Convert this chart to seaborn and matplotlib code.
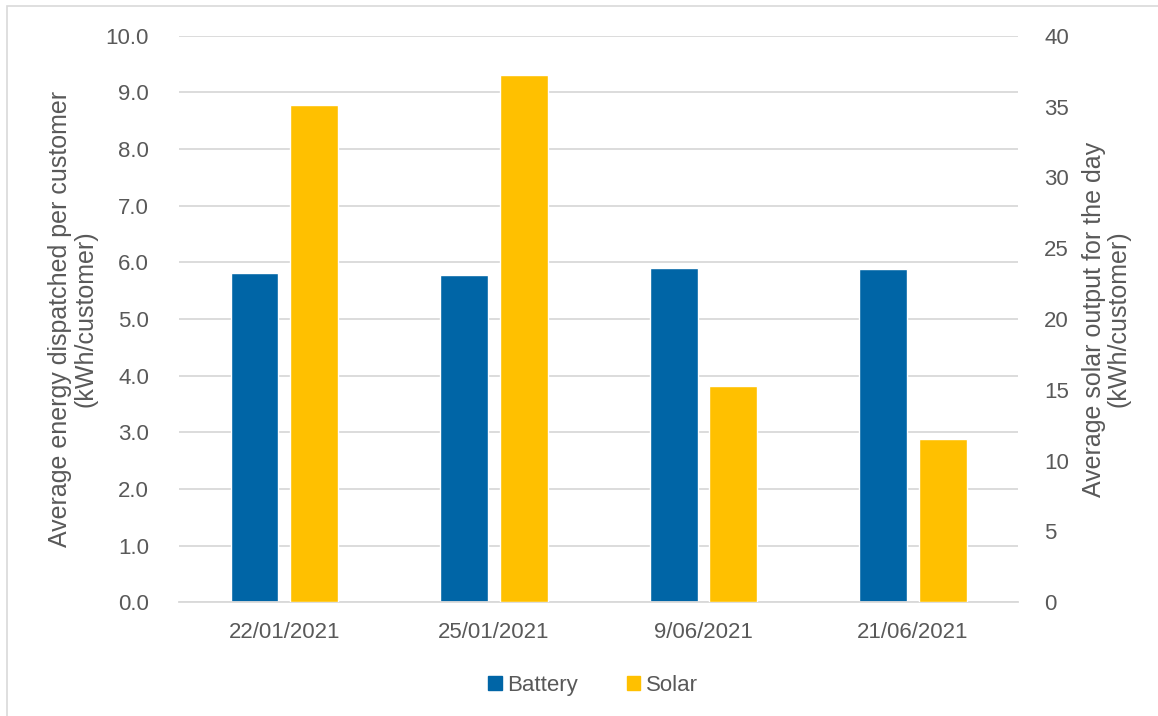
import matplotlib
matplotlib.use("Agg")
import matplotlib.pyplot as plt
from matplotlib.patches import Rectangle
import pandas as pd
import seaborn as sns

dates = ["22/01/2021", "25/01/2021", "9/06/2021", "21/06/2021"]
battery = [5.82, 5.77, 5.90, 5.88]
solar = [35.1, 37.2, 15.3, 11.5]
series = ["Battery", "Solar"]
colors = {"Battery": "#0065A6", "Solar": "#FFC000"}

sns.set_theme(style="white")
plt.rcParams["font.family"] = ["Liberation Sans", "DejaVu Sans"]
text_color = "#595959"
grid_color = "#D9D9D9"

left_df = pd.DataFrame({"Date": dates * 2, "Series": ["Battery"] * 4 + ["Solar"] * 4,
                        "Value": battery + [float("nan")] * 4})
right_df = pd.DataFrame({"Date": dates * 2, "Series": ["Battery"] * 4 + ["Solar"] * 4,
                         "Value": [float("nan")] * 4 + solar})

fig = plt.figure(figsize=(11.58, 7.16), dpi=100)
ax = fig.add_axes([0.155, 0.159, 0.724, 0.791])
ax2 = ax.twinx()

for a, df in ((ax, left_df), (ax2, right_df)):
    sns.barplot(data=df, x="Date", y="Value", hue="Series", hue_order=series,
                palette=colors, width=0.57, gap=0.2, order=dates, ax=a,
                legend=False, errorbar=None, saturation=1)

ax.set_ylim(0, 10)
ax.set_yticks(list(range(11)))
ax.set_yticklabels([f"{i:.1f}" for i in range(11)])
ax2.set_ylim(0, 40)
ax2.set_yticks(list(range(0, 41, 5)))
ax.set_xlim(-0.5, 3.5)

ax.yaxis.grid(True, color=grid_color, linewidth=1.3)
ax.set_axisbelow(True)
for a in (ax, ax2):
    for s in a.spines.values():
        s.set_visible(False)
    a.tick_params(length=0, labelsize=16, colors=text_color)
ax.spines["bottom"].set_visible(True)
ax.spines["bottom"].set_color(grid_color)
ax.spines["bottom"].set_linewidth(1.3)
ax.tick_params(axis="x", pad=14)
ax.tick_params(axis="y", pad=22)
ax2.tick_params(axis="y", pad=19)

ax.set_xlabel("")
ax.set_ylabel("Average energy dispatched per customer\n(kWh/customer)",
              fontsize=18, color=text_color, labelpad=6, linespacing=1.05)
ax2.set_ylabel("Average solar output for the day\n(kWh/customer)",
               fontsize=18, color=text_color, labelpad=9, linespacing=1.05)

handles = [Rectangle((0, 0), 1, 1, color=colors[s]) for s in series]
fig.legend(handles, series, loc="center", bbox_to_anchor=(0.512, 0.043), ncol=2,
           frameon=False, fontsize=16, labelcolor=text_color, handlelength=0.6,
           handleheight=0.6, handletextpad=0.25, columnspacing=2.2)

fig.patches.append(Rectangle((7 / 1158, -0.1), 1.2, 1 - 6 / 716 + 0.1,
                             transform=fig.transFigure, fill=False,
                             edgecolor="#D9D9D9", linewidth=1.2))

fig.savefig("out.png", dpi=100)
